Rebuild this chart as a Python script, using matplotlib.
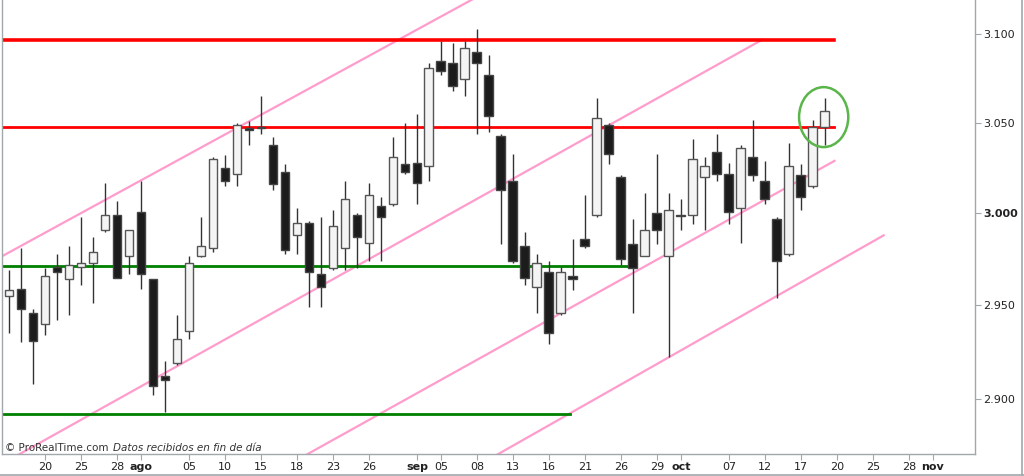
"""Eurostoxx-style daily candles with channel lines (ProRealTime look)."""
import matplotlib
matplotlib.use("Agg")
import matplotlib.pyplot as plt
from matplotlib.patches import Ellipse
from matplotlib.lines import Line2D
from matplotlib.ticker import FixedLocator, FixedFormatter, NullLocator
import pandas as pd

# Daily candles, 15 Jul 2016 - 19 Oct 2016 (business days)
first_day = "2016-07-15"
last_day = "2016-10-19"

opens = [2955, 2959, 2946, 2940, 2971, 2964, 2971, 2973, 2991, 2999, 2977,
         3001, 2964, 2912, 2919, 2936, 2977, 2981, 3025, 3022, 3047, 3048,
         3038, 3023, 2988, 2995, 2967, 2970, 2981, 2999, 2984, 3004, 3005,
         3027, 3028, 3026, 3085, 3084, 3075, 3090, 3077, 3043, 3018, 2982,
         2960, 2968, 2946, 2966, 2986, 2999, 3049, 3020, 2983, 2977, 3000,
         2977, 2999, 2999, 3020, 3034, 3022, 3003, 3031, 3018, 2997, 2978,
         3021, 3015, 3048]
highs = [2969, 2981, 2948, 2970, 2978, 2982, 2998, 2987, 3017, 3007, 2991,
         3018, 2964, 2920, 2945, 2977, 2998, 3031, 3032, 3050, 3051, 3065,
         3042, 3027, 3003, 2996, 2998, 3002, 3018, 3000, 3017, 3009, 3042,
         3050, 3055, 3084, 3096, 3095, 3096, 3103, 3088, 3044, 3033, 2990,
         2978, 2974, 2971, 2986, 3010, 3064, 3050, 3021, 2997, 3011, 3033,
         3011, 3008, 3041, 3031, 3044, 3028, 3038, 3052, 3029, 2998, 3039,
         3027, 3052, 3064]
lows = [2935, 2930, 2908, 2934, 2942, 2945, 2961, 2951, 2990, 2965, 2967,
        2959, 2902, 2893, 2918, 2932, 2976, 2979, 3015, 3015, 3038, 3044,
        3013, 2978, 2978, 2949, 2949, 2969, 2969, 2970, 2974, 2974, 3004,
        3022, 3005, 3018, 3077, 3068, 3065, 3044, 3045, 2983, 2973, 2961,
        2946, 2929, 2945, 2958, 2981, 2998, 3027, 2972, 2946, 2977, 2983,
        2922, 2991, 2994, 2991, 3018, 2994, 2984, 3018, 3005, 2954, 2977,
        3002, 3014, 3038]
closes = [2958, 2948, 2931, 2966, 2968, 2972, 2973, 2979, 2999, 2965, 2991,
          2967, 2907, 2910, 2932, 2973, 2982, 3030, 3018, 3049, 3046, 3047,
          3016, 2980, 2995, 2968, 2960, 2993, 3008, 2987, 3010, 2998, 3031,
          3023, 3017, 3081, 3079, 3071, 3092, 3084, 3054, 3013, 2974, 2965,
          2973, 2935, 2968, 2964, 2982, 3053, 3033, 2975, 2970, 2991, 2991,
          3002, 2998.5, 3030, 3026, 3022, 3001, 3036, 3021, 3008, 2974, 3026,
          3009, 3048, 3057]

# Support / resistance levels: (level, last bar index)
red_levels = [(3096.7, 68.8, 2.6), (3047.7, 68.8, 2.0)]
green_levels = [(2971.1, 51.9), (2892.1, 46.75)]

# Channel lines: (x0, y0, x1, y1) in bar index / price
channels = [(-0.75, 2976, 40.0, 3125),
            (0.1, 2868, 62.8, 3097),
            (24.1, 2868, 68.8, 3029),
            (40.0, 2868, 72.9, 2988)]

# X tick dates; the first tick of a month shows the month name
tick_dates = ["2016-07-20", "2016-07-25", "2016-07-28", "2016-08-01",
              "2016-08-05", "2016-08-10", "2016-08-15", "2016-08-18",
              "2016-08-23", "2016-08-26", "2016-09-01", "2016-09-05",
              "2016-09-08", "2016-09-13", "2016-09-16", "2016-09-21",
              "2016-09-26", "2016-09-29", "2016-10-03", "2016-10-07",
              "2016-10-12", "2016-10-17", "2016-10-20", "2016-10-25",
              "2016-10-28", "2016-11-01"]
month_names = {8: "ago", 9: "sep", 10: "oct", 11: "nov"}

y_ticks = [2900, 2950, 3000, 3050, 3100]


def main():
    days = pd.bdate_range(first_day, "2016-11-10")
    pos = {d: i for i, d in enumerate(days)}
    n = len(pd.bdate_range(first_day, last_day))
    idx = list(range(n))

    fig = plt.figure(figsize=(10.24, 4.76), dpi=100)
    ax = fig.add_axes([0.002, 1 - 454 / 476, 0.950, 454 / 476])
    ax.set_yscale("log")

    # channel lines and levels behind candles
    for x0, y0, x1, y1 in channels:
        ax.plot([x0, x1], [y0, y1], color="#ff9ccc", lw=1.6, zorder=1)
    for lvl, xe, w in red_levels:
        ax.plot([-1, xe], [lvl, lvl], color="#ff0000", lw=w, zorder=1)
    for lvl, xe in green_levels:
        ax.plot([-1, xe], [lvl, lvl], color="#008000", lw=2.0, zorder=1)

    # candles
    ax.vlines(idx, lows, highs, color="#333333", lw=1.0, zorder=2)
    for i in idx:
        o, c = opens[i], closes[i]
        up = c >= o
        ax.bar(i, max(abs(c - o), 0.6), bottom=min(o, c), width=0.74,
               color="#f4f4f4" if up else "#1c1c1c",
               edgecolor="#555555" if up else "#444444", lw=1.0, zorder=3)

    ax.add_patch(Ellipse((67.9, 3053.4), width=4.1, height=33.5, fill=False,
                         edgecolor="#5ab54a", lw=1.8, zorder=4))

    ax.set_xlim(-0.58, 80.5)
    ax.set_ylim(2870.8, 3119.5)

    # y axis on the right
    ax.yaxis.tick_right()
    ax.yaxis.set_major_locator(FixedLocator(y_ticks))
    ax.yaxis.set_minor_locator(NullLocator())
    ax.yaxis.set_major_formatter(FixedFormatter(
        [f"{v:,}".replace(",", ".") for v in y_ticks]))
    ax.tick_params(axis="y", length=4, width=0.8, color="#a0a8ac",
                   labelsize=8, pad=2, labelcolor="#222222")
    for lab, v in zip(ax.get_yticklabels(), y_ticks):
        if v == 3000:
            lab.set_fontweight("bold")

    # x axis
    xt, xl = [], []
    prev_month = 7
    for d in tick_dates:
        ts = pd.Timestamp(d)
        xt.append(pos[ts])
        if ts.month != prev_month:
            xl.append(month_names[ts.month])
        else:
            xl.append(ts.strftime("%d"))
        prev_month = ts.month
    ax.set_xticks(xt)
    ax.set_xticklabels(xl)
    ax.tick_params(axis="x", length=4, width=0.8, color="#a0a8ac",
                   labelsize=8, pad=2, labelcolor="#222222")
    for lab in ax.get_xticklabels():
        if lab.get_text() in month_names.values():
            lab.set_fontweight("bold")

    ax.spines["top"].set_visible(False)
    for s in ("left", "right", "bottom"):
        ax.spines[s].set_color("#a0a8ac")
        ax.spines[s].set_linewidth(1.0)

    # outer frame
    fig.add_artist(Line2D([0, 1], [0.002, 0.002], color="#a0a8ac", lw=1.2))
    fig.add_artist(Line2D([0.9985, 0.9985], [0, 1], color="#a0a8ac", lw=1.2))

    fig.text(5 / 1024, (476 - 448) / 476, "\u00a9 ProRealTime.com",
             fontsize=7.5, color="#333333", va="center")
    fig.text(113 / 1024, (476 - 448) / 476, "Datos recibidos en fin de d\u00eda",
             fontsize=7.5, color="#333333", va="center", style="italic")

    fig.savefig("out.png", dpi=100)


main()
